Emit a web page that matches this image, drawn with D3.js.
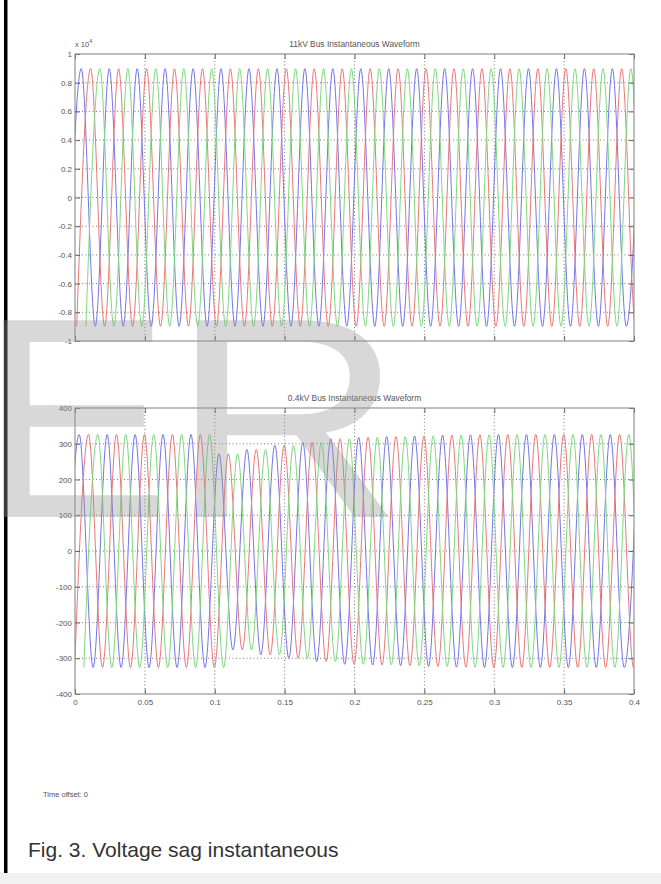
<!DOCTYPE html>
<html>
<head>
<meta charset="utf-8">
<script src="https://cdn.jsdelivr.net/npm/d3@7"></script>
<style>
  html, body { margin: 0; padding: 0; background: #fff; }
  svg { display: block; font-family: "Liberation Sans", Arial, sans-serif; }
</style>
</head>
<body>
<script>
// ---------------- data ----------------
const timeTicks = [0, 0.05, 0.1, 0.15, 0.2, 0.25, 0.3, 0.35, 0.4];
const timeTickLabels = ["0", "0.05", "0.1", "0.15", "0.2", "0.25", "0.3", "0.35", "0.4"];

const hvTicks = [-1, -0.8, -0.6, -0.4, -0.2, 0, 0.2, 0.4, 0.6, 0.8, 1];
const hvTickLabels = ["-1", "-0.8", "-0.6", "-0.4", "-0.2", "0", "0.2", "0.4", "0.6", "0.8", "1"];

const lvTicks = [-400, -300, -200, -100, 0, 100, 200, 300, 400];
const lvTickLabels = ["-400", "-300", "-200", "-100", "0", "100", "200", "300", "400"];

const phaseNames = ["Phase A", "Phase B", "Phase C"];
const halfCycle = 0.01; // s, 50 Hz

// time of the first positive peak of each phase (s)
const hvFirstPeak = [0.0045, 0.0112, 0.0178];
const lvFirstPeak = [0.0030, 0.0097, 0.0163];

// peak magnitude of each successive half-cycle extreme (trough, peak, trough, ...)
// 11 kV bus (x 10^4 V)
const hvPeaks = [0.898, 0.898, 0.898, 0.898, 0.898, 0.898, 0.898, 0.898, 0.898, 0.898,
                 0.898, 0.898, 0.898, 0.898, 0.898, 0.898, 0.898, 0.898, 0.898, 0.898,
                 0.898, 0.898, 0.898, 0.898, 0.898, 0.898, 0.898, 0.898, 0.898, 0.898,
                 0.898, 0.898, 0.898, 0.898, 0.898, 0.898, 0.898, 0.898, 0.898, 0.898,
                 0.898, 0.898];
// 0.4 kV bus (V) — sag at 0.1 s with gradual recovery
const lvPeaks = [326, 326, 326, 326, 326, 326, 326, 326, 326, 326,
                 326, 272, 277, 284, 290, 296, 300, 304, 309, 314,
                 317, 318, 319, 320, 321, 322, 323, 324, 325, 325,
                 326, 326, 326, 326, 326, 326, 326, 326, 326, 326,
                 326, 326];

const titles = ["11kV Bus Instantaneous Waveform", "0.4kV Bus Instantaneous Waveform"];
const caption = "Fig. 3. Voltage sag instantaneous";
const timeOffsetText = "Time offset: 0";

// ---------------- drawing ----------------
const W = 661, H = 884;
const phaseColors = ["#7474ea", "#ec7676", "#7fd87f"];
const FONT = "\"Liberation Sans\", Arial, sans-serif";

const svg = d3.select("body").append("svg").attr("width", W).attr("height", H);

// page frame
svg.append("rect").attr("x", 0).attr("y", 873).attr("width", W).attr("height", 11).attr("fill", "#f1f1f1");
svg.append("rect").attr("x", 4).attr("y", 0).attr("width", 3.5).attr("height", 873).attr("fill", "#000");

const x = d3.scaleLinear().domain([0, 0.4]).range([75, 634]);

function buildSeries(firstPeaks, peaks) {
  return firstPeaks.map((fp, j) => peaks.map((m, k) => ({
    t: fp - halfCycle + k * halfCycle,
    v: (k % 2 === 0 ? -1 : 1) * m
  })));
}

function drawPanel(cfg, idx) {
  const y = d3.scaleLinear().domain([cfg.ticks[0], cfg.ticks[cfg.ticks.length - 1]]).range([cfg.bottom, cfg.top]);
  const g = svg.append("g");
  const x0 = x.range()[0], x1 = x.range()[1];

  // grid (dotted)
  g.append("g").selectAll("line").data(timeTicks.slice(1, -1)).join("line")
    .attr("x1", d => x(d)).attr("x2", d => x(d)).attr("y1", cfg.top).attr("y2", cfg.bottom)
    .attr("stroke", "#555").attr("stroke-width", 0.8).attr("stroke-dasharray", "1,2.5");
  g.append("g").selectAll("line").data(cfg.ticks.slice(1, -1)).join("line")
    .attr("x1", x0).attr("x2", x1).attr("y1", d => y(d)).attr("y2", d => y(d))
    .attr("stroke", "#555").attr("stroke-width", 0.8).attr("stroke-dasharray", "1,2.5");

  // clip
  const clipId = "clip" + idx;
  svg.append("clipPath").attr("id", clipId).append("rect")
    .attr("x", x0).attr("y", cfg.top).attr("width", x1 - x0).attr("height", cfg.bottom - cfg.top);

  const line = d3.line().x(d => x(d.t)).y(d => y(d.v)).curve(d3.curveMonotoneX);
  const series = buildSeries(cfg.firstPeaks, cfg.peaks);
  g.append("g").attr("clip-path", `url(#${clipId})`)
    .selectAll("path").data(series).join("path")
    .attr("d", line).attr("fill", "none")
    .attr("stroke", (d, i) => phaseColors[i]).attr("stroke-width", 1)
    .attr("data-name", (d, i) => phaseNames[i]);

  // axes (inward ticks on all sides)
  const fmtY = d => cfg.labels[cfg.ticks.indexOf(d)];
  const fmtX = d => timeTickLabels[timeTicks.indexOf(d)];
  const left = g.append("g").attr("transform", `translate(${x0},0)`)
    .call(d3.axisLeft(y).tickValues(cfg.ticks).tickFormat(fmtY).tickSizeInner(-5).tickSizeOuter(0).tickPadding(3));
  const right = g.append("g").attr("transform", `translate(${x1},0)`)
    .call(d3.axisRight(y).tickValues(cfg.ticks).tickFormat("").tickSizeInner(-5).tickSizeOuter(0));
  const topAx = g.append("g").attr("transform", `translate(0,${cfg.top})`)
    .call(d3.axisTop(x).tickValues(timeTicks).tickFormat("").tickSizeInner(-5).tickSizeOuter(0));
  const botAx = g.append("g").attr("transform", `translate(0,${cfg.bottom})`)
    .call(d3.axisBottom(x).tickValues(timeTicks).tickFormat(cfg.xLabels ? fmtX : "").tickSizeInner(-5).tickSizeOuter(0).tickPadding(5));
  [left, right, topAx, botAx].forEach(a => {
    a.select(".domain").remove();
    a.selectAll(".tick line").attr("stroke", "#555").attr("stroke-width", 0.9);
    a.selectAll(".tick text").attr("fill", "#555").attr("font-size", 8).attr("font-family", FONT);
  });

  // box
  g.append("rect").attr("x", x0).attr("y", cfg.top).attr("width", x1 - x0).attr("height", cfg.bottom - cfg.top)
    .attr("fill", "none").attr("stroke", "#8a8a8a").attr("stroke-width", 1.1);

  // title
  g.append("text").attr("x", (x0 + x1) / 2).attr("y", cfg.top - 7).attr("text-anchor", "middle")
    .attr("font-size", 8.4).attr("fill", "#555").attr("font-family", FONT).text(titles[idx]);

  if (cfg.multiplier) {
    const m = g.append("text").attr("x", x0).attr("y", cfg.top - 7).attr("font-size", 7.5)
      .attr("fill", "#555").attr("font-family", FONT);
    m.append("tspan").text("x 10");
    m.append("tspan").attr("dy", -4).attr("font-size", 5.5).text("4");
  }
}

drawPanel({ ticks: hvTicks, labels: hvTickLabels, top: 54, bottom: 341, firstPeaks: hvFirstPeak, peaks: hvPeaks, xLabels: false, multiplier: true }, 0);
drawPanel({ ticks: lvTicks, labels: lvTickLabels, top: 408, bottom: 694, firstPeaks: lvFirstPeak, peaks: lvPeaks, xLabels: true, multiplier: false }, 1);

// time offset note
svg.append("text").attr("x", 43).attr("y", 797).attr("font-size", 7.5).attr("fill", "#555")
  .attr("font-family", FONT).text(timeOffsetText);

// caption
svg.append("text").attr("x", 28).attr("y", 857).attr("font-size", 21).attr("fill", "#333")
  .attr("font-family", FONT).text(caption);

// watermark
const wm = svg.append("g").attr("fill", "#999").attr("fill-opacity", 0.38).attr("font-family", FONT)
  .attr("font-size", 286);
wm.append("text").attr("x", -20.5).attr("y", 517).text("E");
wm.append("text").attr("transform", "translate(170.5,517) scale(1.13,1)").text("R");
</script>
</body>
</html>
